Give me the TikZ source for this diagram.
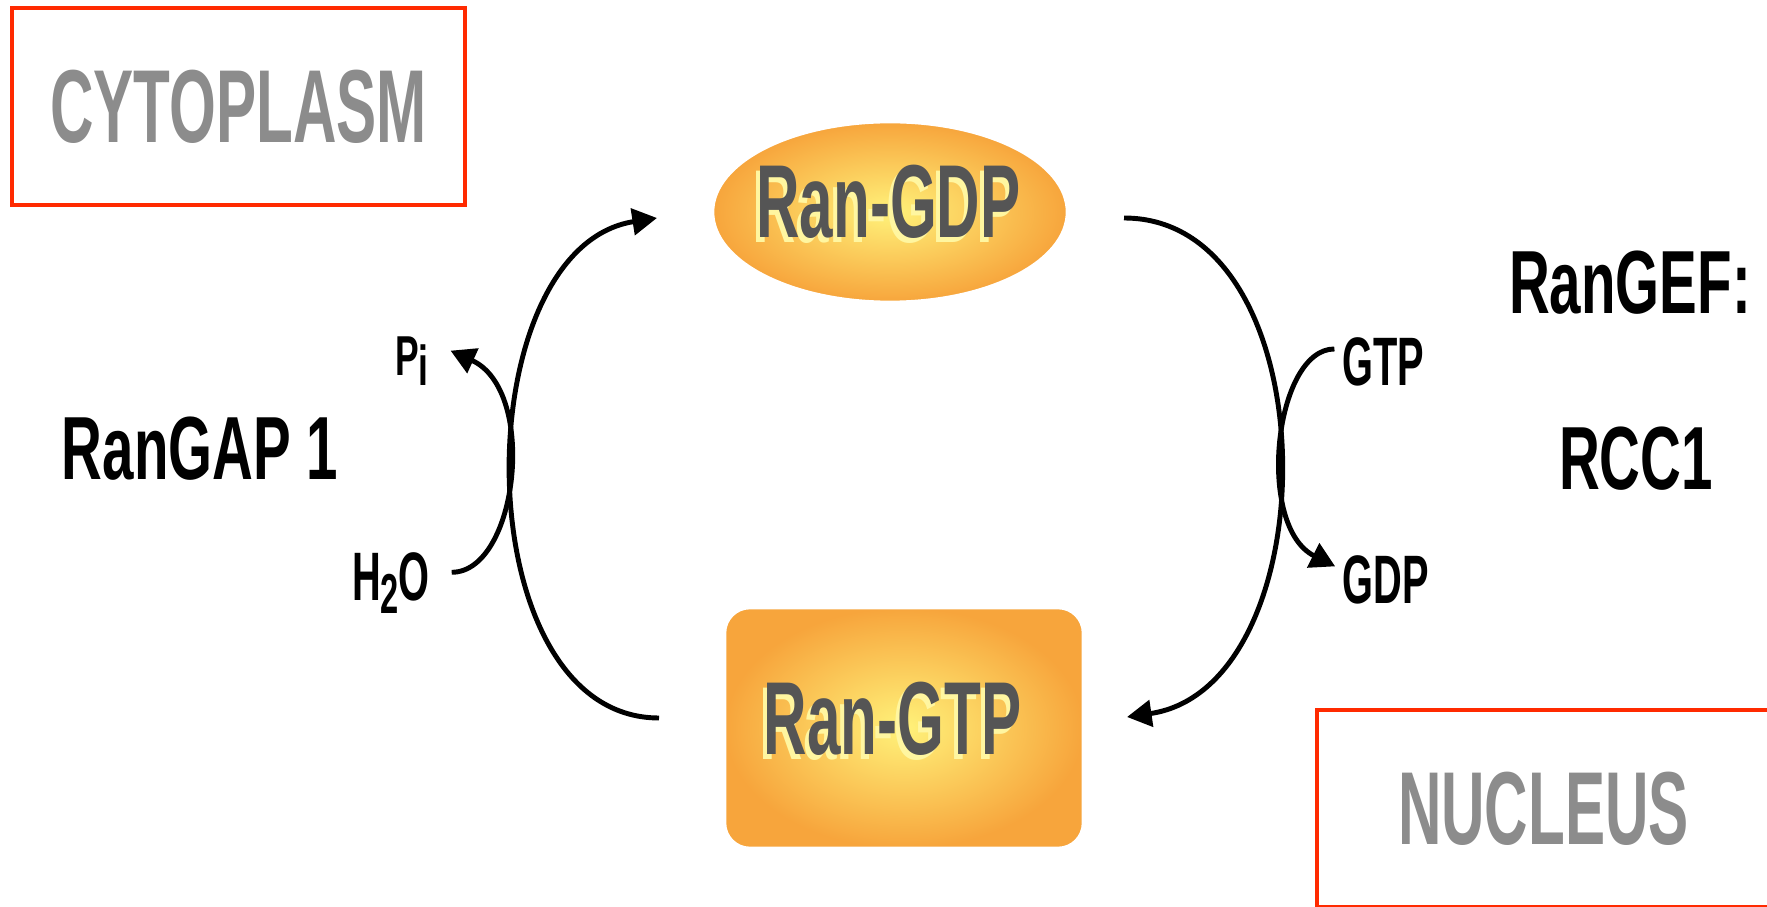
\documentclass[tikz,border=0pt]{standalone}
\usepackage{fontspec}
\setmainfont{Liberation Sans}
\newfontfamily\ranfont{Liberation Sans}[FakeStretch=0.58]
\newfontfamily\labfont{Liberation Sans}[FakeStretch=0.63]
\usetikzlibrary{arrows.meta,shapes.geometric,positioning}

\definecolor{boxred}{HTML}{FF2A00}
\definecolor{regiongray}{HTML}{8C8C8C}
\definecolor{randark}{HTML}{555555}
\definecolor{ranshadow}{HTML}{FFF6A0}
\definecolor{ranyellow}{HTML}{FFF27A}
\definecolor{ranorange}{HTML}{F7A53C}

\tikzset{
    region/.style = {draw = boxred, line width = 1.3pt, minimum width = 4.53cm, minimum height = 1.97cm,
        inner sep = 0pt, text = regiongray, font = \ranfont\bfseries\fontsize{29.5}{30}\selectfont},
    ranshape/.style = {inner color = ranyellow, outer color = ranorange, draw = white, line width = 0.8pt, inner sep = 0pt},
    rantext/.style = {text = randark, inner sep = 0pt, font = \ranfont\bfseries\fontsize{29.5}{30}\selectfont},
    ranshade/.style = {rantext, text = ranshadow},
    enzyme/.style = {inner sep = 0pt, font = \labfont\bfseries\fontsize{25.5}{26}\selectfont},
    metabolite/.style = {inner ysep = 2pt, inner xsep = 6pt, font = \ranfont\bfseries\fontsize{19.5}{20}\selectfont},
    cyclearrow/.style = {line width = 1.4pt, -{Triangle[length = 7pt, width = 7.5pt]}}
}

\begin{document}
\begin{tikzpicture}[x = 0.01cm, y = -0.01cm]
    \useasboundingbox (0,0) rectangle (1767,907);
    \clip (0,0) rectangle (1767,907);

    % compartments
    \node[region] (cyto) at (238.5,106.5) {CYTOPLASM};
    \node[region] (nucleus) at (1543.5,808.5) {NUCLEUS};

    % the two forms of Ran
    \node[ranshape, ellipse, minimum width = 3.54cm, minimum height = 1.8cm] (rangdp) at (890,212) {};
    \node[ranshape, rectangle, rounded corners = 0.25cm, minimum width = 3.58cm, minimum height = 2.4cm] (rangtp) at (904,728) {};
    \node[ranshade] (gdpshadow) at (884.5,207) {Ran-GDP};
    \node[rantext] (gdptext) at (888.5,202) {Ran-GDP};
    \node[ranshade] (gtpshadow) at (888.5,724) {Ran-GTP};
    \node[rantext] (gtptext) at (892.5,719) {Ran-GTP};

    % enzymes
    \node[enzyme] (gap) at (200,449) {RanGAP 1};
    \node[enzyme] (gef) at (1630,283) {RanGEF:};
    \node[enzyme] (rcc) at (1636,459) {RCC1};

    % small molecules
    \node[metabolite] (pi) at (412,361) {\labfont\fontsize{16}{17}\selectfont P\raisebox{-3pt}{i}};
    \node[metabolite] (water) at (391,583) {H\raisebox{-3.8pt}{\fontsize{16}{16}\selectfont 2}O};
    \node[metabolite, inner xsep = 2pt] (gtp) at (1383,362) {GTP};
    \node[metabolite, inner xsep = 2pt] (gdp) at (1386,580) {GDP};

    \coordinate (gtpleft) at (659,718);
    \coordinate (gdpleft) at (657,218);
    \coordinate (gdpright) at (1124,218);
    \coordinate (gtpright) at (1127,717);

    % cycle
    \draw[cyclearrow] (gtpleft) .. controls +(-196,0) and +(-193,30) .. (gdpleft);
    \draw[cyclearrow] (gdpright) .. controls +(207,0) and +(204,-30) .. (gtpright);
    \draw[cyclearrow] (water.10) .. controls +(66,0) and +(88,40) .. (pi.15);
    \draw[cyclearrow] (gtp.165) .. controls +(-60,0) and +(-80,-40) .. (gdp.165);
\end{tikzpicture}
\end{document}
